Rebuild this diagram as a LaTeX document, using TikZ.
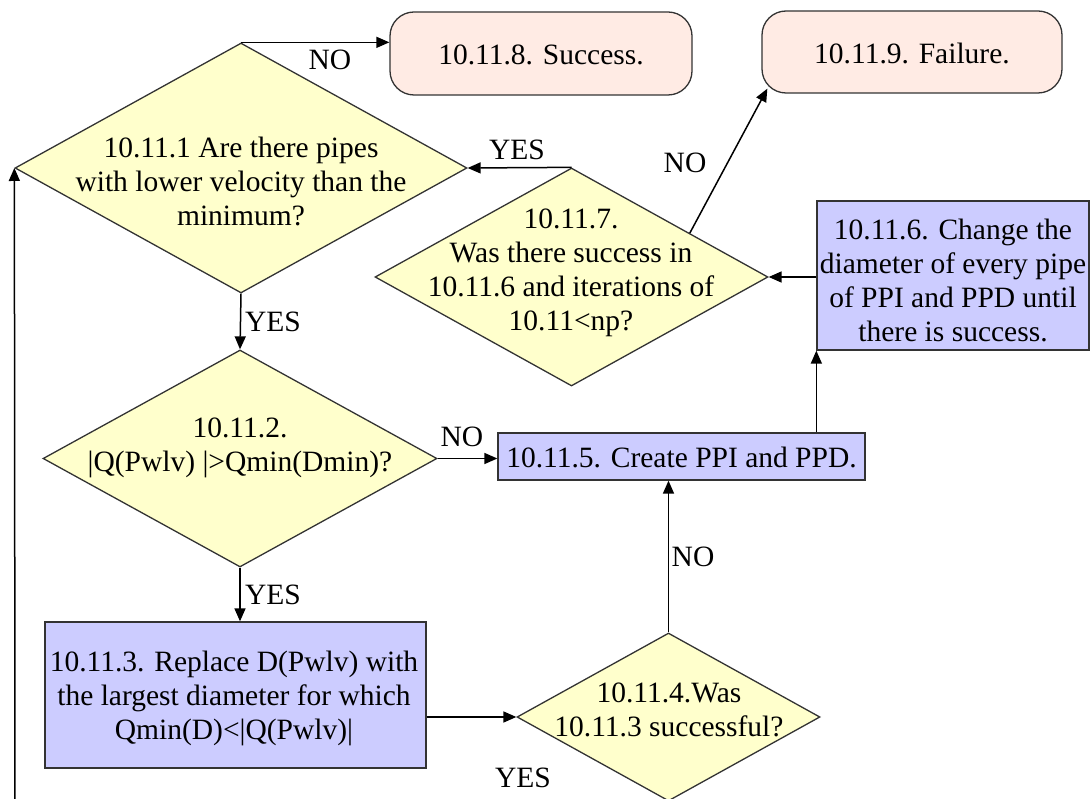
\documentclass[tikz,border=0pt]{standalone}
\usepackage{fontspec}
\setmainfont{Liberation Serif}
\usetikzlibrary{shapes.geometric,arrows.meta,calc}
\definecolor{dfill}{HTML}{FFFFCC}
\definecolor{bfill}{HTML}{CCCCFF}
\definecolor{tfill}{HTML}{FFEBE4}
\definecolor{bordc}{HTML}{333333}
\begin{document}
\begin{tikzpicture}[x=1pt,y=-1pt,
  every node/.style={font=\fontsize{29.5}{34}\selectfont},
  dec/.style={diamond,draw=bordc,fill=dfill,line width=1.3pt,inner sep=0pt},
  proc/.style={rectangle,draw=bordc,fill=bfill,line width=1.3pt,inner sep=0pt,align=center},
  term/.style={rectangle,rounded corners=24pt,draw=bordc,fill=tfill,line width=1.3pt,inner sep=0pt},
  txt/.style={align=center,inner sep=0pt},
  lbl/.style={inner sep=0pt},
  conn/.style={line width=1.5pt,-{Triangle[length=13pt,width=11pt]}}
]
\useasboundingbox (0,0) rectangle (1090,799);

% decisions
\node[dec,minimum width=452pt,minimum height=250pt] (d1) at (241,168) {};
\node[txt] (d1t) at (241,181) {10.11.1 Are there pipes\\with lower velocity than the\\minimum?};

\node[dec,minimum width=394pt,minimum height=217pt] (d2) at (240,458.5) {};
\node[txt] (d2t) at (240,448) {10.11.2.\\|Q(Pwlv) |>Qmin(Dmin)?};

\node[dec,minimum width=303pt,minimum height=168pt] (d4) at (668.5,717) {};
\node[txt] (d4t) at (669,710) {10.11.4.Was\\10.11.3 successful?};

\node[dec,minimum width=393pt,minimum height=218pt] (d7) at (571.5,277) {};
\node[txt] (d7t) at (571,273) {10.11.7.\\Was there success in\\10.11.6 and iterations of\\10.11<np?};

% processes
\node[proc,minimum width=381pt,minimum height=146pt] (b3) at (235.5,695) {};
\node[txt] (b3t) at (234,698) {10.11.3. Replace D(Pwlv) with\\the largest diameter for which\\Qmin(D)<|Q(Pwlv)|};

\node[proc,minimum width=367pt,minimum height=47pt] (b5) at (681.5,456.5) {};
\node[txt] (b5t) at (681.5,457) {10.11.5. Create PPI and PPD.};

\node[proc,minimum width=272pt,minimum height=149pt] (b6) at (953,275.5) {};
\node[txt] (b6t) at (953,280) {10.11.6. Change the\\diameter of every pipe\\of PPI and PPD until\\there is success.};

% terminals
\node[term,minimum width=302pt,minimum height=83pt] (s) at (541,53.5) {};
\node[txt] (st) at (541,55) {10.11.8. Success.};
\node[term,minimum width=300pt,minimum height=82pt] (f) at (912,52) {};
\node[txt] (ft) at (912,53) {10.11.9. Failure.};

% labels
\node[lbl] (l1) at (330,60) {NO};
\node[lbl] (l2) at (517,150) {YES};
\node[lbl] (l3) at (685,163) {NO};
\node[lbl] (l4) at (273,322) {YES};
\node[lbl] (l5) at (273,595) {YES};
\node[lbl] (l6) at (462,437) {NO};
\node[lbl] (l7) at (693,557) {NO};
\node[lbl] (l8) at (523,778) {YES};

% connectors
\coordinate (c7) at ($(d7.north)!0.6!(d7.east)$);
\coordinate (fc) at ($(f.south west)+(6,-5)$);
\coordinate (lb) at (15,800);
\draw[conn] (d1.north) -- (d1.north -| s.west);
\draw[conn] (d7.north) -- (d1.east);
\draw[conn] (c7) -- (fc);
\draw[conn] (b6.west |- d7.east) -- (d7.east);
\draw[conn] (b5.north -| b6.south west) -- (b6.south west);
\draw[conn] (d2.east) -- (d2.east -| b5.west);
\draw[conn] (d1.south) -- (d2.north);
\draw[conn] (d2.south) -- (d2.south |- b3.north);
\draw[conn] (b3.east |- d4.west) -- (d4.west);
\draw[conn] (d4.north) -- (d4.north |- b5.south);
\draw[conn] (lb) -- (d1.west);
\end{tikzpicture}
\end{document}
